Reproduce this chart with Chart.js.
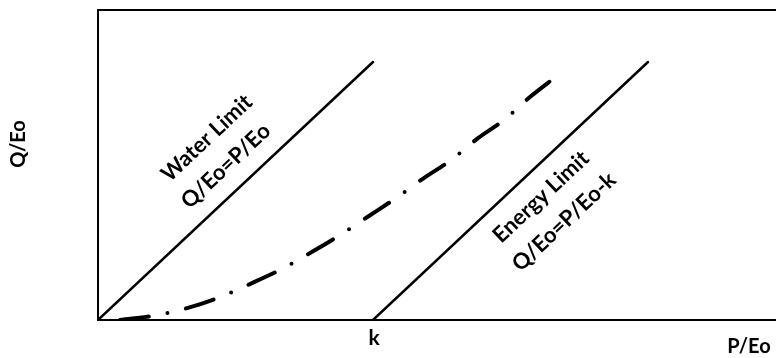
<!DOCTYPE html>
<html><head><meta charset="utf-8">
<script src="https://cdn.jsdelivr.net/npm/chart.js@4"></script>
<style>html,body{margin:0;padding:0;background:#fff;}#wrap{width:776px;height:358px;}</style>
</head><body><div id="wrap"><canvas id="c" width="776" height="358"></canvas></div>
<script>
// Data (P/Eo on x, Q/Eo on y; k = 1)
const kValue = 1;
const waterX = [0, 1.0];
const waterY = [0, 1.0];
const energyX = [1.0, 2.0];
const energyY = [0, 1.0];
const curveX = [0.08, 0.215, 0.327, 0.444, 0.56, 0.669, 0.778, 0.88, 0.985, 1.084, 1.185, 1.284, 1.382, 1.476, 1.575, 1.669];
const curveY = [0.0, 0.019, 0.047, 0.089, 0.143, 0.198, 0.264, 0.329, 0.403, 0.473, 0.55, 0.62, 0.705, 0.775, 0.868, 0.946];
const xTickLabels = ['k'];
const xTitle = 'P/Eo';
const yTitle = 'Q/Eo';
const waterLabels = ['Water Limit', 'Q/Eo=P/Eo'];
const energyLabels = ['Energy Limit', 'Q/Eo=P/Eo-k'];

const pts = (xs, ys) => xs.map((x, i) => ({x, y: ys[i]}));
const FONT = 'Lato, "Open Sans", sans-serif';

const textPlugin = {
  id: 'texts',
  afterDraw(chart) {
    const {ctx, chartArea: a, scales: {x, y}} = chart;
    ctx.save();
    // top border
    ctx.strokeStyle = '#000'; ctx.lineWidth = 2;
    ctx.beginPath(); ctx.moveTo(a.left - 1, a.top); ctx.lineTo(a.right, a.top); ctx.stroke();
    ctx.fillStyle = '#000';
    ctx.textAlign = 'center'; ctx.textBaseline = 'middle';
    ctx.font = 'bold 21px ' + FONT;
    // tick label k
    ctx.fillText(xTickLabels[0], x.getPixelForValue(kValue) + 1, 338);
    // axis titles
    ctx.font = 'bold 20px ' + FONT;
    ctx.fillText(xTitle, 749, 347);
    ctx.save(); ctx.translate(19, 144); ctx.rotate(-Math.PI / 2); ctx.fillText(yTitle, 0, 0); ctx.restore();
    // diagonal labels
    const ang = Math.atan2(y.getPixelForValue(1) - y.getPixelForValue(0), x.getPixelForValue(1) - x.getPixelForValue(0));
    ctx.font = 'bold 22px ' + FONT;
    const put = (txt, dx, dy) => {
      ctx.save();
      ctx.translate(x.getPixelForValue(dx), y.getPixelForValue(dy));
      ctx.rotate(ang);
      ctx.fillText(txt, 0, 0);
      ctx.restore();
    };
    put(waterLabels[0], 0.396, 0.705);
    put(waterLabels[1], 0.465, 0.597);
    put(energyLabels[0], 1.611, 0.477);
    put(energyLabels[1], 1.695, 0.380);
    ctx.restore();
  }
};

new Chart(document.getElementById('c'), {
  type: 'scatter',
  data: {
    datasets: [
      {data: pts(waterX, waterY), showLine: true, borderColor: '#000', borderWidth: 2.5, pointRadius: 0, borderCapStyle: 'round'},
      {data: pts(energyX, energyY), showLine: true, borderColor: '#000', borderWidth: 2.5, pointRadius: 0, borderCapStyle: 'round'},
      {data: pts(curveX, curveY), showLine: true, borderColor: '#000', borderWidth: 4, pointRadius: 0,
       borderCapStyle: 'round', borderDash: [29, 19, 0, 19], cubicInterpolationMode: 'monotone'}
    ]
  },
  options: {
    responsive: false,
    animation: false,
    events: [],
    layout: {padding: {left: 98, top: 10, bottom: 38, right: 0}},
    plugins: {legend: {display: false}, tooltip: {enabled: false}},
    scales: {
      x: {type: 'linear', min: 0, max: 2.4655, display: true,
          grid: {display: false, drawTicks: false},
          border: {display: true, color: '#000', width: 2},
          ticks: {display: false}},
      y: {type: 'linear', min: 0, max: 1.2016, display: true,
          grid: {display: false, drawTicks: false},
          border: {display: true, color: '#000', width: 2},
          ticks: {display: false}}
    }
  },
  plugins: [textPlugin]
});
</script>
</body></html>
